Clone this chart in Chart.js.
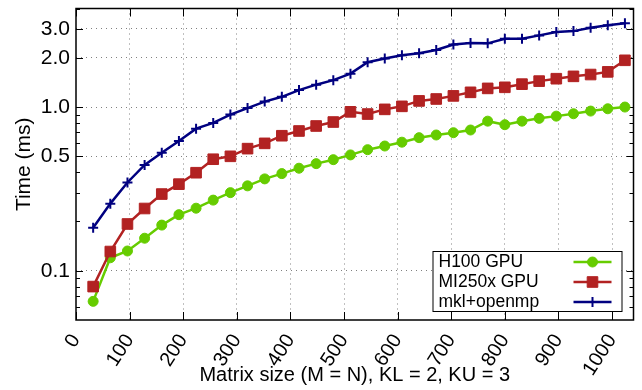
<!DOCTYPE html>
<html lang="en">
<head>
<meta charset="UTF-8">
<title>Banded matrix timing</title>
<style>
  body { margin: 0; background: #fff; }
  #chart { display: block; }
</style>
</head>
<body>
<canvas id="chart" width="642" height="390"></canvas>
<script src="https://cdn.jsdelivr.net/npm/chart.js"></script>
<script>
// matrix sizes (M = N)
const matrixSizes = [32, 64, 96, 128, 160, 192, 224, 256, 288, 320, 352, 384, 416, 448, 480, 512,
                     544, 576, 608, 640, 672, 704, 736, 768, 800, 832, 864, 896, 928, 960, 992, 1024];

// times in ms
const h100Times = [0.065, 0.120, 0.132, 0.158, 0.190, 0.220, 0.241, 0.270, 0.300, 0.330, 0.364, 0.392, 0.423, 0.451, 0.477, 0.510,
                   0.549, 0.578, 0.610, 0.650, 0.675, 0.697, 0.724, 0.820, 0.780, 0.820, 0.853, 0.880, 0.910, 0.945, 0.976, 1.000];
const mi250xTimes = [0.080, 0.131, 0.193, 0.240, 0.294, 0.338, 0.397, 0.480, 0.500, 0.557, 0.600, 0.668, 0.714, 0.766, 0.810, 0.935,
                     0.906, 0.968, 1.010, 1.090, 1.120, 1.170, 1.230, 1.300, 1.320, 1.380, 1.440, 1.490, 1.540, 1.580, 1.640, 1.930];
const mklTimes = [0.183, 0.257, 0.346, 0.443, 0.526, 0.620, 0.738, 0.800, 0.900, 0.985, 1.080, 1.155, 1.270, 1.370, 1.460, 1.600,
                  1.880, 1.980, 2.070, 2.130, 2.230, 2.410, 2.460, 2.450, 2.610, 2.610, 2.740, 2.870, 2.910, 3.050, 3.160, 3.250];

const seriesNames = ['H100 GPU', 'MI250x GPU', 'mkl+openmp'];

// axis ticks
const xTickValues = [0, 100, 200, 300, 400, 500, 600, 700, 800, 900, 1000];
const yTickValues = [0.1, 0.5, 1, 2, 3];
const yTickLabels = ['0.1', '0.5', '1.0', '2.0', '3.0'];
const yMinorTicks = [0.06, 0.07, 0.08, 0.09, 0.2, 0.3, 0.4, 0.6, 0.7, 0.8, 0.9, 4];

const FONT = "'Liberation Sans', Arial, sans-serif";
Chart.defaults.font.family = FONT;
Chart.defaults.color = '#000';

const toPoints = arr => arr.map((v, i) => ({ x: matrixSizes[i], y: v }));

// inward tick marks, frame and the boxed legend (gnuplot look)
const framePlugin = {
  id: 'frame',
  beforeDatasetsDraw(chart) {
    const { ctx, chartArea: a, scales: { x, y } } = chart;
    ctx.save();
    ctx.strokeStyle = '#000';
    ctx.lineWidth = 1;
    ctx.beginPath();
    x.ticks.forEach(t => {
      const px = Math.round(x.getPixelForValue(t.value)) + 0.5;
      ctx.moveTo(px, a.bottom); ctx.lineTo(px, a.bottom - 8);
      ctx.moveTo(px, a.top); ctx.lineTo(px, a.top + 8);
    });
    y.ticks.forEach(t => {
      const py = Math.round(y.getPixelForValue(t.value)) + 0.5;
      const len = yTickValues.includes(t.value) ? 7 : 4;
      ctx.moveTo(a.left, py); ctx.lineTo(a.left + len, py);
      ctx.moveTo(a.right, py); ctx.lineTo(a.right - len, py);
    });
    ctx.stroke();
    ctx.lineWidth = 1.5;
    ctx.strokeRect(a.left, a.top, a.right - a.left, a.bottom - a.top);
    ctx.restore();
  },
  afterDatasetsDraw(chart) {
    const { ctx, chartArea: a } = chart;
    const w = 189, h = 60;
    const left = a.right - 12 - w, top = a.bottom - 9 - h;
    ctx.save();
    ctx.fillStyle = '#fff';
    ctx.fillRect(left, top, w, h);
    ctx.strokeStyle = '#000';
    ctx.lineWidth = 1;
    ctx.strokeRect(left + 0.5, top + 0.5, w, h);
    ctx.font = '17.5px ' + FONT;
    ctx.textBaseline = 'middle';
    chart.data.datasets.forEach((ds, i) => {
      const cy = top + 11 + i * 20;
      ctx.fillStyle = '#000';
      ctx.fillText(ds.label, left + 6, cy);
      const x1 = left + w - 48, x2 = left + w - 10;
      ctx.strokeStyle = ds.borderColor;
      ctx.lineWidth = ds.borderWidth;
      ctx.beginPath(); ctx.moveTo(x1, cy); ctx.lineTo(x2, cy); ctx.stroke();
      ctx.fillStyle = ds.pointBackgroundColor;
      ctx.strokeStyle = ds.pointBorderColor;
      ctx.lineWidth = ds.pointBorderWidth;
      Chart.helpers.drawPoint(ctx, {
        pointStyle: ds.pointStyle, radius: ds.pointRadius, rotation: 0, borderWidth: ds.pointBorderWidth
      }, (x1 + x2) / 2, cy);
    });
    ctx.restore();
  }
};

new Chart(document.getElementById('chart'), {
  type: 'line',
  data: {
    datasets: [
      {
        label: seriesNames[0], data: toPoints(h100Times), order: 3,
        borderColor: '#66cc00', backgroundColor: '#66cc00', borderWidth: 2.5,
        pointStyle: 'circle', pointRadius: 5, pointBackgroundColor: '#66cc00',
        pointBorderColor: '#66cc00', pointBorderWidth: 1
      },
      {
        label: seriesNames[1], data: toPoints(mi250xTimes), order: 2,
        borderColor: '#b22222', backgroundColor: '#b22222', borderWidth: 2.5,
        pointStyle: 'rect', pointRadius: 7.5, pointBackgroundColor: '#b22222',
        pointBorderColor: '#b22222', pointBorderWidth: 1
      },
      {
        label: seriesNames[2], data: toPoints(mklTimes), order: 1,
        borderColor: '#000080', backgroundColor: '#000080', borderWidth: 2.5,
        pointStyle: 'cross', pointRadius: 5, pointBackgroundColor: '#000080',
        pointBorderColor: '#000080', pointBorderWidth: 2
      }
    ]
  },
  options: {
    responsive: false,
    animation: false,
    events: [],
    layout: { padding: { left: 0, top: 7, right: 6, bottom: 0 } },
    plugins: { legend: { display: false }, tooltip: { enabled: false } },
    scales: {
      x: {
        type: 'linear', min: 0, max: 1040,
        afterBuildTicks: s => { s.ticks = xTickValues.map(v => ({ value: v })); },
        afterFit: s => { s.height = 70; s.paddingLeft = 0; s.paddingRight = 0; },
        ticks: {
          autoSkip: false, minRotation: 57, maxRotation: 57, padding: 10,
          font: { size: 20 }, callback: v => String(v)
        },
        grid: {
          drawTicks: false, lineWidth: 1,
          color: c => (c.tick && c.tick.value !== 0 ? '#808080' : 'rgba(0,0,0,0)')
        },
        border: { display: false, dash: [1, 4] },
        title: { display: true, text: 'Matrix size (M = N), KL = 2, KU = 3', font: { size: 20 }, padding: { top: 0, bottom: 3 } }
      },
      y: {
        type: 'logarithmic', min: 0.05, max: 4,
        afterBuildTicks: s => {
          s.ticks = [...yMinorTicks, ...yTickValues].sort((p, q) => p - q).map(v => ({ value: v }));
        },
        afterFit: s => { s.width = 76; s.paddingTop = 0; s.paddingBottom = 0; },
        ticks: {
          autoSkip: false, padding: 6, font: { size: 21 },
          callback: v => { const i = yTickValues.indexOf(v); return i >= 0 ? yTickLabels[i] : ''; }
        },
        grid: {
          drawTicks: false, lineWidth: 1,
          color: c => (c.tick && yTickValues.includes(c.tick.value) ? '#808080' : 'rgba(0,0,0,0)')
        },
        border: { display: false, dash: [1, 4] },
        title: { display: true, text: 'Time (ms)', font: { size: 21 }, padding: { top: 12, bottom: 0 } }
      }
    }
  },
  plugins: [framePlugin]
});
</script>
</body>
</html>
